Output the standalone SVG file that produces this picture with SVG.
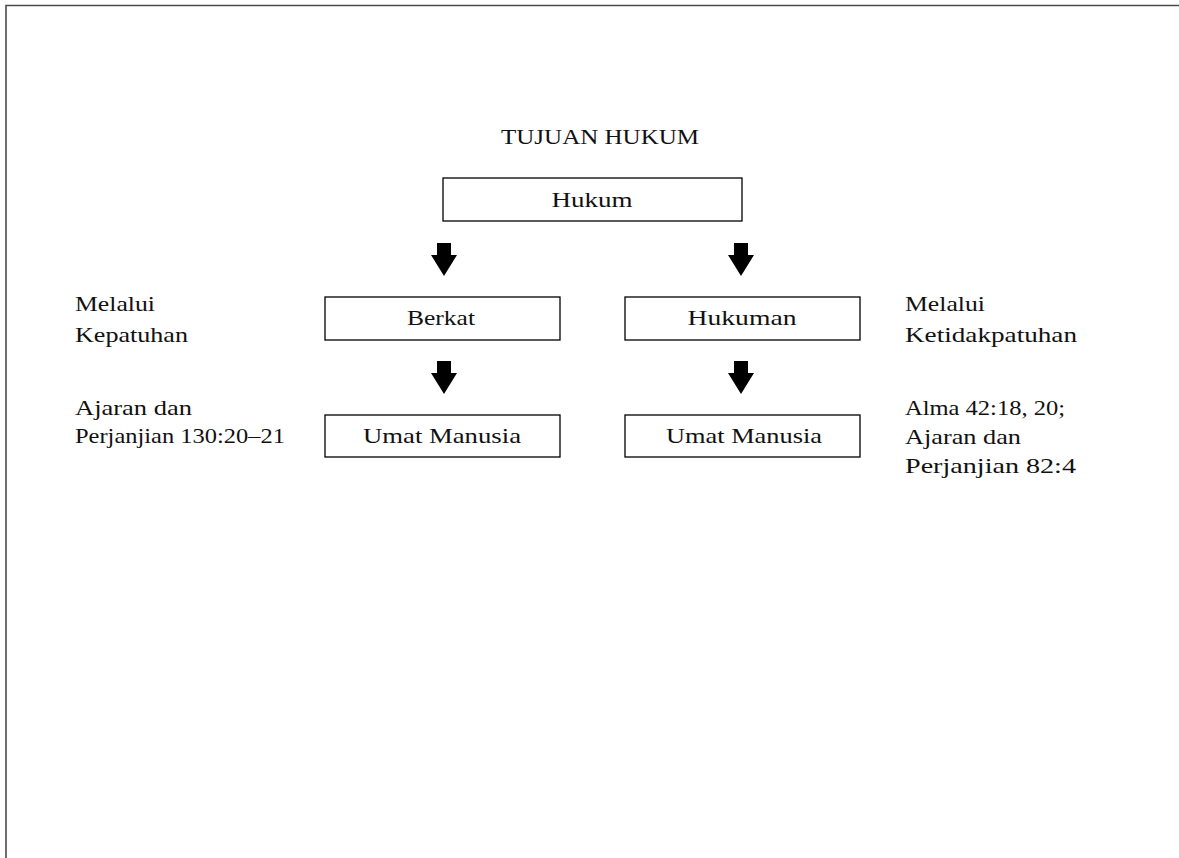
<svg xmlns="http://www.w3.org/2000/svg" width="1179" height="858" viewBox="0 0 1179 858">
  <defs>
    <style>
      .t { font-family: "Liberation Serif", "Times New Roman", serif; font-size: 22px; fill: #111; }
      .c { text-anchor: middle; }
      .box { fill: #fff; stroke: #000; stroke-width: 1.3; }
      .arr { fill: #000; stroke: none; }
      .frame { fill: none; stroke: #4a4a4a; stroke-width: 1.6; }
    </style>
    <path id="arrow" d="M-7,0 H7 V12 H13 L0,33 L-13,12 H-7 Z"/>
  </defs>
  <rect width="1179" height="858" fill="#fff"/>
  <path class="frame" d="M6,858 V5.5 H1179"/>

  <text class="t c" x="600" y="144" textLength="198" lengthAdjust="spacingAndGlyphs">TUJUAN HUKUM</text>

  <g id="hukum">
    <rect class="box" x="443" y="178" width="299" height="43"/>
    <text class="t c" x="592" y="207" textLength="81" lengthAdjust="spacingAndGlyphs">Hukum</text>
  </g>
  <g id="berkat">
    <rect class="box" x="325" y="297" width="235" height="43"/>
    <text class="t c" x="441" y="325" textLength="68" lengthAdjust="spacingAndGlyphs">Berkat</text>
  </g>
  <g id="hukuman">
    <rect class="box" x="625" y="297" width="235" height="43"/>
    <text class="t c" x="742" y="325" textLength="109" lengthAdjust="spacingAndGlyphs">Hukuman</text>
  </g>
  <g id="umat-kiri">
    <rect class="box" x="325" y="415" width="235" height="42"/>
    <text class="t c" x="442" y="443" textLength="158" lengthAdjust="spacingAndGlyphs">Umat Manusia</text>
  </g>
  <g id="umat-kanan">
    <rect class="box" x="625" y="415" width="235" height="42"/>
    <text class="t c" x="744" y="443" textLength="156" lengthAdjust="spacingAndGlyphs">Umat Manusia</text>
  </g>

  <g id="label-kiri-1">
    <text class="t" x="75" y="311" textLength="80" lengthAdjust="spacingAndGlyphs">Melalui</text>
    <text class="t" x="75" y="342" textLength="113" lengthAdjust="spacingAndGlyphs">Kepatuhan</text>
  </g>
  <g id="label-kiri-2">
    <text class="t" x="75" y="415" textLength="117" lengthAdjust="spacingAndGlyphs">Ajaran dan</text>
    <text class="t" x="75" y="443" textLength="210" lengthAdjust="spacingAndGlyphs">Perjanjian 130:20–21</text>
  </g>
  <g id="label-kanan-1">
    <text class="t" x="905" y="311" textLength="80" lengthAdjust="spacingAndGlyphs">Melalui</text>
    <text class="t" x="905" y="342" textLength="172" lengthAdjust="spacingAndGlyphs">Ketidakpatuhan</text>
  </g>
  <g id="label-kanan-2">
    <text class="t" x="905" y="415" textLength="160" lengthAdjust="spacingAndGlyphs">Alma 42:18, 20;</text>
    <text class="t" x="905" y="444" textLength="116" lengthAdjust="spacingAndGlyphs">Ajaran dan</text>
    <text class="t" x="905" y="473" textLength="171" lengthAdjust="spacingAndGlyphs">Perjanjian 82:4</text>
  </g>

  <g id="connectors">
    <use href="#arrow" class="arr" x="444" y="243"/>
    <use href="#arrow" class="arr" x="741" y="243"/>
    <use href="#arrow" class="arr" x="444" y="361"/>
    <use href="#arrow" class="arr" x="741" y="361"/>
  </g>
</svg>
